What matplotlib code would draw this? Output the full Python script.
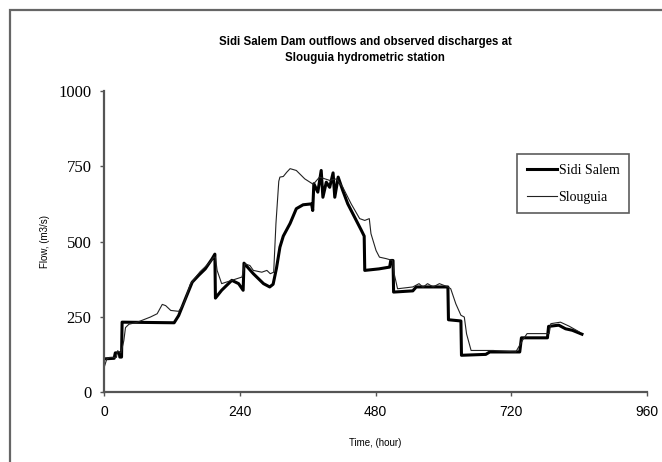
import matplotlib.pyplot as plt
from matplotlib.patches import Rectangle

# Sidi Salem dam outflows (hour, m3/s)
sidi_hours = [0, 18, 20, 27, 28, 31, 32, 124, 132, 144, 156, 167, 179, 191, 196, 197,
              208, 226, 238, 246, 247.5, 264, 282, 293, 299, 305, 311, 317, 329, 340,
              352, 367, 369, 371, 378, 384, 387, 393, 399, 405, 408, 414, 422, 431, 443,
              455, 460, 461, 486, 505, 507, 511, 512, 546, 552, 608, 609, 631, 632, 675,
              682, 735, 738, 784, 786, 804, 816, 828, 845]
sidi_flow = [110, 112, 130, 130, 116, 116, 232, 230, 254, 310, 365, 387, 409, 442, 458, 312,
             338, 371, 360, 338, 428, 393, 360, 349, 358, 412, 481, 518, 560, 609,
             622, 625, 603, 692, 664, 736, 647, 697, 680, 728, 647, 714, 670, 625, 581,
             537, 518, 404, 409, 415, 437, 437, 332, 336, 349, 349, 240, 236, 122, 125,
             133, 133, 180, 180, 218, 222, 210, 205, 192]

# Slouguia observed discharges (hour, m3/s)
slou_hours = [0, 5, 10, 22, 24, 30, 35, 38, 44, 59, 82, 94, 103, 109, 118, 132, 141, 153,
              170, 188, 194, 197, 200, 208, 226, 244, 249, 258, 264, 279, 288, 294, 300,
              304, 309, 311, 317, 323, 329, 340, 355, 370, 381, 399, 411, 422, 437, 452,
              461, 469, 472, 481, 487, 499, 510, 513, 519, 546, 557, 564, 572, 582, 593,
              608, 613, 622, 631, 637, 641, 649, 688, 728, 740, 748, 787, 790, 807, 822, 840]
slou_flow = [80, 110, 115, 115, 137, 130, 170, 214, 225, 232, 249, 260, 291, 287, 271, 268, 293, 360,
             400, 432, 448, 448, 404, 360, 371, 382, 426, 420, 404, 398, 404, 393, 398,
             560, 700, 714, 716, 730, 742, 736, 708, 690, 714, 703, 708, 681, 625, 576,
             570, 576, 526, 470, 448, 443, 437, 393, 343, 349, 360, 348, 360, 349, 360,
             349, 343, 293, 255, 249, 193, 138, 138, 133, 172, 194, 194, 227, 232, 219, 200]

x_ticks = [0, 240, 480, 720, 960]
y_ticks = [0, 250, 500, 750, 1000]

fig = plt.figure(figsize=(6.62, 4.62), dpi=100)
# outer chart-area border (runs off the right and bottom edges)
fig.patches.append(Rectangle((10 / 662, -0.1), 1.2, 1 - 10 / 462 + 0.1, transform=fig.transFigure,
                             fill=False, edgecolor='#666666', linewidth=1.6))

ax = fig.add_axes([104 / 662, 1 - 392 / 462, (647 - 104) / 662, (392 - 91) / 462])
ax.plot(sidi_hours, sidi_flow, color='black', linewidth=2.2, label='Sidi Salem')
ax.plot(slou_hours, slou_flow, color='#222222', linewidth=0.8, label='Slouguia')

ax.set_xlim(0, 960)
ax.set_ylim(0, 1000)
ax.set_xticks(x_ticks)
ax.set_yticks(y_ticks)
ax.set_xticklabels([str(t) for t in x_ticks], fontfamily='Liberation Sans', fontsize=10)
ax.set_yticklabels([str(t) for t in y_ticks], fontfamily='Liberation Serif', fontsize=12)
ax.tick_params(length=3, width=1, color='#555555', pad=6)

for s in ['top', 'right']:
    ax.spines[s].set_visible(False)
for s in ['left', 'bottom']:
    ax.spines[s].set_color('#555555')
    ax.spines[s].set_linewidth(1.6)

ax.set_xlabel('Time, (hour)', fontfamily='Liberation Sans', fontsize=7, labelpad=14)
ax.set_ylabel('Flow, (m3/s)', fontfamily='Liberation Sans', fontsize=7, labelpad=6)

fig.text(365 / 662, 1 - 50 / 462, 'Sidi Salem Dam outflows and observed discharges at\nSlouguia hydrometric station',
         ha='center', va='center', fontfamily='Liberation Sans', fontweight='bold', fontsize=8.3,
         linespacing=1.45)

leg = ax.legend(loc='upper left', bbox_to_anchor=((510 - 104) / 543, 1 - (147 - 91) / 301),
                prop={'family': 'Liberation Serif', 'size': 10}, frameon=True, fancybox=False,
                handlelength=2.2, handletextpad=0.1, borderpad=0.7, labelspacing=1.0)
leg.get_frame().set_edgecolor('#333333')
leg.get_frame().set_linewidth(1.2)

fig.savefig('out.png', dpi=100)
